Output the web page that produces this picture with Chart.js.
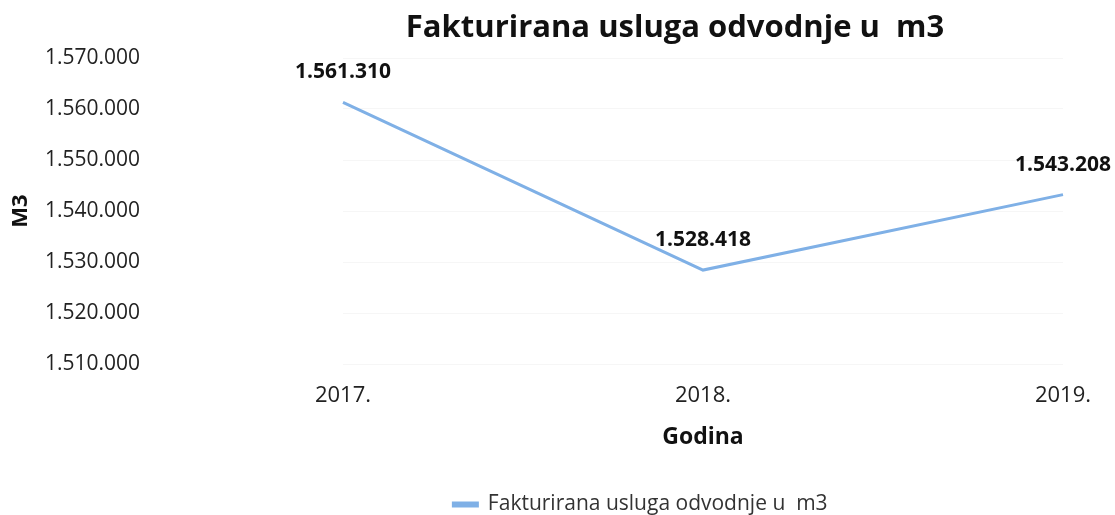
<!DOCTYPE html>
<html>
<head>
<meta charset="utf-8">
<script src="https://cdn.jsdelivr.net/npm/chart.js@4.4.0/dist/chart.umd.min.js"></script>
<style>
  html, body { margin: 0; padding: 0; background: #fff; }
  #wrap { width: 1115px; height: 515px; }
</style>
</head>
<body>
<div id="wrap"><canvas id="myChart"></canvas></div>
<script>
const years = ['2017.', '2018.', '2019.'];
const volumes = [1561310, 1528418, 1543208];
const yTicks = [1510000, 1520000, 1530000, 1540000, 1550000, 1560000, 1570000];

const chartTitle = 'Fakturirana usluga odvodnje u  m3';
const seriesName = 'Fakturirana usluga odvodnje u  m3';
const lineColor = '#7fb0e6';

const fmt = v => Math.round(v).toString().replace(/\B(?=(\d{3})+(?!\d))/g, '.');

// title is drawn a bit right of centre, like the original
const titlePlugin = {
    id: 'bigTitle',
    afterDraw(chart) {
        const ctx = chart.ctx;
        ctx.save();
        ctx.font = 'bold 31px "Open Sans"';
        ctx.fillStyle = '#111';
        ctx.textAlign = 'center';
        ctx.textBaseline = 'middle';
        ctx.fillText(chartTitle, 675, 28);
        ctx.restore();
    }
};

// nudge the legend to the right, the original isn't centred either
const legendShift = {
    id: 'legendShift',
    afterLayout(chart) {
        if (chart.legend) {
            chart.legend.left += 105;
            chart.legend.right += 105;
        }
    }
};

const valueLabels = {
    id: 'valueLabels',
    afterDatasetsDraw(chart) {
        const ctx = chart.ctx;
        const meta = chart.getDatasetMeta(0);
        ctx.save();
        ctx.font = 'bold 21px "Open Sans"';
        ctx.fillStyle = '#111';
        ctx.textAlign = 'center';
        ctx.textBaseline = 'middle';
        meta.data.forEach((pt, i) => {
            ctx.fillText(fmt(volumes[i]), pt.x, pt.y - 30);
        });
        ctx.restore();
    }
};

new Chart(document.getElementById('myChart').getContext('2d'), {
    type: 'line',
    data: {
        labels: years,
        datasets: [{
            label: seriesName,
            data: volumes,
            borderColor: lineColor,
            backgroundColor: lineColor,
            borderWidth: 3,
            pointRadius: 0,
            tension: 0
        }]
    },
    options: {
        responsive: true,
        maintainAspectRatio: false,
        animation: false,
        layout: { padding: { top: 58, left: 8, right: 52, bottom: -10 } },
        plugins: {
            title: { display: false },
            tooltip: { enabled: false },
            legend: {
                position: 'bottom',
                labels: {
                    boxWidth: 24,
                    boxHeight: 3,
                    color: '#333',
                    font: { family: '"Open Sans"', size: 21 },
                    padding: 3
                }
            }
        },
        scales: {
            x: {
                offset: false,
                grid: { display: false, drawTicks: false },
                border: { display: false },
                ticks: { color: '#222', font: { family: '"Open Sans"', size: 22 }, padding: 19 },
                title: {
                    display: true,
                    text: 'Godina',
                    color: '#111',
                    font: { family: '"Open Sans"', size: 23, weight: 'bold' },
                    padding: { top: -5, bottom: 40 }
                }
            },
            y: {
                min: yTicks[0],
                max: yTicks[yTicks.length - 1],
                afterBuildTicks: s => { s.ticks = yTicks.map(v => ({ value: v })); },
                afterFit: s => { s.width = 335; s.paddingTop = 12; s.paddingBottom = 12; },
                grid: { color: '#f6f6f6', drawTicks: false },
                border: { display: false },
                ticks: {
                    color: '#222',
                    font: { family: '"Open Sans"', size: 21 },
                    padding: 203,
                    callback: v => fmt(v)
                },
                title: {
                    display: true,
                    text: 'M3',
                    color: '#111',
                    font: { family: '"Open Sans"', size: 22, weight: 'bold' },
                    padding: 0
                }
            }
        }
    },
    plugins: [titlePlugin, legendShift, valueLabels]
});
</script>
</body>
</html>
